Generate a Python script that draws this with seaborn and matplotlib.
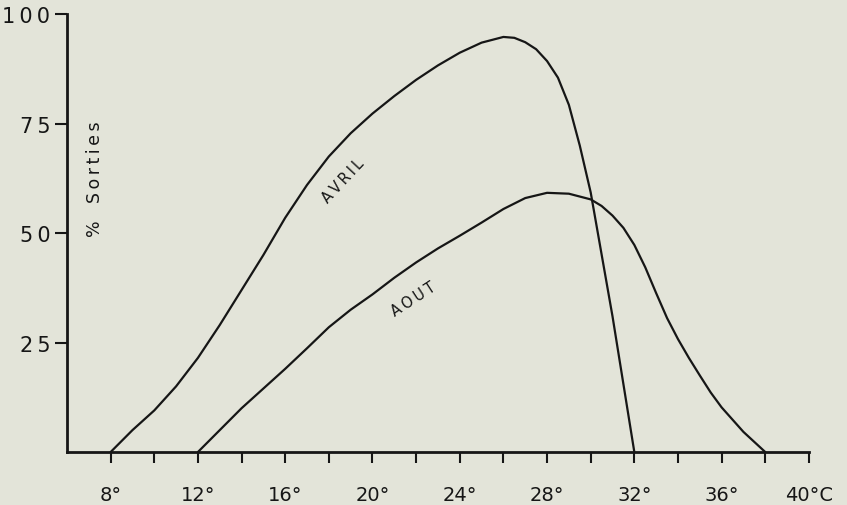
import numpy as np
import pandas as pd
import matplotlib
matplotlib.use("Agg")
import matplotlib.pyplot as plt
import seaborn as sns

# % de sorties selon la temperature
temp_avril = [8, 9, 10, 11, 12, 13, 14, 15, 16, 17, 18, 19, 20, 21, 22, 23, 24, 25, 26, 26.5, 27, 27.5, 28, 28.5, 29, 29.5, 30, 31, 32]
sorties_avril = [0, 5, 9.5, 15, 21.5, 29, 37, 45, 53.5, 61, 67.5, 72.8, 77.3, 81.3, 85, 88.3, 91.2, 93.5, 94.8, 94.6, 93.6, 92, 89.3, 85.5, 79.3, 70, 59.3, 31, 0]

temp_aout = [12, 13, 14, 15, 16, 17, 18, 19, 20, 21, 22, 23, 24, 25, 26, 27, 28, 29, 30, 30.5, 31, 31.5, 32, 32.5, 33, 33.5, 34, 34.5, 35, 35.5, 36, 37, 38]
sorties_aout = [0, 5, 10, 14.5, 19, 23.7, 28.5, 32.5, 36, 39.8, 43.3, 46.5, 49.4, 52.4, 55.5, 58, 59.2, 59, 57.7, 56.2, 54, 51.2, 47.3, 42.2, 36.3, 30.6, 25.8, 21.5, 17.5, 13.6, 10.2, 4.6, 0]

xticks = list(range(8, 41, 2))
xlabels = [f"{t}°" if t % 4 == 0 else "" for t in xticks]
xlabels[-1] = "40°C"
yticks = [25, 50, 75, 100]
ylabels = ["2\u20095", "5\u20090", "7\u20095", "1\u20090\u20090"]

papier = "#e3e4d9"
encre = "#161616"

sns.set_theme(style="white")
plt.rcParams['font.family'] = ['DejaVu Sans']

fig = plt.figure(figsize=(8.47, 5.06), dpi=100, facecolor=papier)
ax = fig.add_axes([0.0791, 0.1047, 0.8759, 0.8653])
ax.set_facecolor(papier)

df_avril = pd.DataFrame({"temp": temp_avril, "sorties": sorties_avril})
df_aout = pd.DataFrame({"temp": temp_aout, "sorties": sorties_aout})
sns.lineplot(data=df_avril, x="temp", y="sorties", color=encre, lw=1.6, ax=ax, sort=False)
sns.lineplot(data=df_aout, x="temp", y="sorties", color=encre, lw=1.6, ax=ax, sort=False)

ax.set_xlim(6, 40)
ax.set_ylim(0, 100)
ax.set_xticks(xticks)
ax.set_xticklabels(xlabels, fontsize=14, color=encre)
ax.set_yticks(yticks)
ax.set_yticklabels(ylabels, fontsize=15, color=encre)
ax.set_xlabel("")
ax.set_ylabel("")

sns.despine(ax=ax)
for s in ["left", "bottom"]:
    ax.spines[s].set_color(encre)
    ax.spines[s].set_linewidth(2)
ax.tick_params(axis="x", direction="out", length=8, width=1.5, color=encre, pad=16)
ax.tick_params(axis="y", direction="out", length=9, width=1.5, color=encre, pad=3)
ax.tick_params(bottom=True, left=True)

ax.text(18.63, 62.0, "A\u2009V\u2009R\u2009I\u2009L", rotation=47, fontsize=10.5,
        color=encre, ha="center", va="center")
ax.text(21.88, 35.1, "A\u2009O\u2009U\u2009T", rotation=33, fontsize=10.5,
        color=encre, ha="center", va="center")
ax.text(7.28, 62.6, "%\u2003S\u2009o\u2009r\u2009t\u2009i\u2009e\u2009s", rotation=90, fontsize=12.5,
        color=encre, ha="center", va="center")

fig.savefig("out.png", dpi=100, facecolor=papier)
